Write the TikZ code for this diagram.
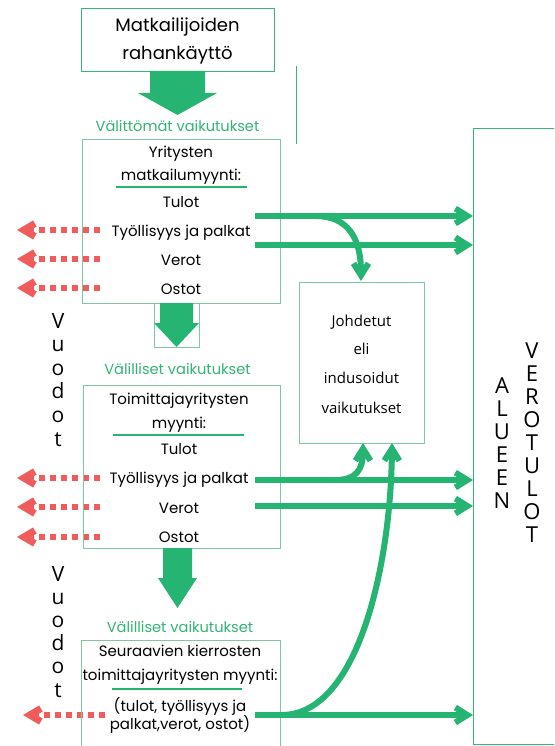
\documentclass[tikz,border=0pt]{standalone}
\usepackage{fontspec}
\setmainfont{Poppins}
\newfontfamily\humfont{Open Sans}
\usetikzlibrary{arrows.meta}
\definecolor{gfill}{RGB}{38,180,115}
\definecolor{gstrong}{RGB}{55,180,120}
\definecolor{boxc}{RGB}{125,200,162}
\definecolor{redc}{RGB}{240,92,92}
\definecolor{headc}{RGB}{50,180,115}
\newcommand\bodyf{\fontsize{15}{18}\selectfont}
\newcommand\headf{\fontsize{14.6}{18}\selectfont}
\newcommand\bigf{\fontsize{18}{22}\selectfont}
\newcommand\humf{\humfont\fontsize{15}{18}\selectfont}
\newcommand\vertf{\humfont\fontsize{21}{24}\selectfont}
\newcommand\vertbigf{\humfont\fontsize{22}{24}\selectfont}
\begin{document}
\begin{tikzpicture}[x=1pt,y=-1pt,
  box/.style={draw=boxc, line width=1pt, inner sep=0pt, anchor=north west},
  strongbox/.style={draw=gstrong, line width=1.2pt, inner sep=0pt, anchor=north west},
  txt/.style={font=\bodyf, inner sep=0pt, anchor=base},
  bigtxt/.style={font=\bigf, inner sep=0pt, anchor=base},
  humtxt/.style={font=\humf, inner sep=0pt, anchor=base},
  headtxt/.style={font=\headf, text=headc, inner sep=0pt, anchor=base},
  vlet/.style={font=\vertf, inner sep=0pt, anchor=base},
  vbig/.style={font=\vertbigf, inner sep=0pt, anchor=base},
  uline/.style={draw=gfill, line width=1.3pt},
  blockarrow/.style={fill=gfill},
  garrow/.style={draw=gfill, line width=6pt,
    -{Straight Barb[length=12pt,width=15pt,line join=miter,line cap=butt]}},
  rarrow/.style={draw=redc, line width=6pt, dash pattern=on 6pt off 5pt,
    -{Straight Barb[length=11pt,width=13pt,line width=7pt,line join=miter,line cap=butt]}},
]
\useasboundingbox (0,0) rectangle (554,746);
\clip (0,0) rectangle (554,746);
\fill[white] (0,0) rectangle (554,746);

% red leak arrows (drawn beneath the boxes)
\coordinate (r1s) at (100,230); \coordinate (r1e) at (17,230);
\coordinate (r2s) at (100,259); \coordinate (r2e) at (17,259);
\coordinate (r3s) at (100,288); \coordinate (r3e) at (17,288);
\coordinate (r4s) at (100,478); \coordinate (r4e) at (17,478);
\coordinate (r5s) at (100,507); \coordinate (r5e) at (17,507);
\coordinate (r6s) at (100,537); \coordinate (r6e) at (17,537);
\coordinate (r7s) at (105,715); \coordinate (r7e) at (23,715);
\foreach \k in {1,...,7} {\draw[rarrow] (r\k s) -- (r\k e);}

% boxes
\node[strongbox, minimum width=193pt, minimum height=63pt] (top) at (81,8) {};
\node[box, minimum width=198pt, minimum height=164pt] (box1) at (82,139) {};
\node[box, minimum width=197pt, minimum height=163pt] (box2) at (83,385) {};
\node[box, minimum width=199pt, minimum height=130pt] (box3) at (81,640) {};
\node[box, minimum width=125pt, minimum height=161pt] (joh) at (299,282) {};
\node[strongbox, minimum width=100pt, minimum height=616pt] (region) at (473,128) {};
\node[box, minimum width=45pt, minimum height=44pt] (frame2) at (154,303) {};

% thin line
\coordinate (tl1) at (296,66);
\coordinate (tl2) at (296,144);
\draw[draw=gstrong, line width=1pt] (tl1) -- (tl2);

% block arrows
\fill[blockarrow] (150,71) -- (205,71) -- (205,93) -- (217,93) -- (177.5,115) -- (138,93) -- (150,93) -- cycle;
\fill[blockarrow] (160,303) -- (193,303) -- (193,323) -- (199,323) -- (176.5,347) -- (154,323) -- (160,323) -- cycle;
\fill[blockarrow] (163,548) -- (192,548) -- (192,578) -- (197,578) -- (177.5,608) -- (158,578) -- (163,578) -- cycle;

% top box text
\node[bigtxt] (m1) at (177.5,32) {Matkailijoiden};
\node[bigtxt] (m2) at (177.5,60) {rahankäyttö};

% headings
\node[headtxt] (h1) at (177.5,132) {Välittömät vaikutukset};
\node[headtxt] (h2) at (177.5,374) {Välilliset vaikutukset};
\node[headtxt] (h3) at (180,632) {Välilliset vaikutukset};

% box1 text
\node[txt] (a1) at (181,158) {Yritysten};
\node[txt] (a2) at (181,181) {matkailumyynti:};
\node[txt] (a3) at (181,207) {Tulot};
\node[txt] (a4) at (181,236) {Työllisyys ja palkat};
\node[txt] (a5) at (181,265) {Verot};
\node[txt] (a6) at (181,294) {Ostot};
\coordinate (u1s) at (116,187); \coordinate (u1e) at (247,187);
\draw[uline] (u1s) -- (u1e);

% box2 text
\node[txt] (b1) at (179,404) {Toimittajayritysten};
\node[txt] (b2) at (179,428) {myynti:};
\node[txt] (b3) at (179,454) {Tulot};
\node[txt] (b4) at (179,483) {Työllisyys ja palkat};
\node[txt] (b5) at (179,513) {Verot};
\node[txt] (b6) at (179,542) {Ostot};
\coordinate (u2s) at (113,435); \coordinate (u2e) at (244,435);
\draw[uline] (u2s) -- (u2e);

% box3 text
\node[txt] (c1) at (180,656) {Seuraavien kierrosten};
\node[txt] (c2) at (180,680) {toimittajayritysten myynti:};
\node[txt] (c3) at (180,711) {(tulot, työllisyys ja};
\node[txt] (c4) at (180,729) {palkat,verot, ostot)};
\coordinate (u3s) at (112,689); \coordinate (u3e) at (242,689);
\draw[uline] (u3s) -- (u3e);

% Johdetut text
\node[humtxt] (j1) at (361.5,326) {Johdetut};
\node[humtxt] (j2) at (361.5,354) {eli};
\node[humtxt] (j3) at (361.5,383) {indusoidut};
\node[humtxt] (j4) at (361.5,413) {vaikutukset};

% vertical words
\foreach \ch [count=\i] in {V,u,o,d,o,t}
  {\node[vlet] (va\i) at (58,{328+23.6*(\i-1)}) {\ch};}
\foreach \ch [count=\i] in {V,u,o,d,o,t}
  {\node[vlet] (vb\i) at (58,{581+23.2*(\i-1)}) {\ch};}
\foreach \ch [count=\i] in {A,L,U,E,E,N}
  {\node[vbig] (al\i) at (502,{393+23*(\i-1)}) {\ch};}
\foreach \ch [count=\i] in {V,E,R,O,T,U,L,O,T}
  {\node[vbig] (ve\i) at (532,{358+23.1*(\i-1)}) {\ch};}

% green arrows to region
\coordinate (g1s) at (255,216); \coordinate (g1e) at (region.west |- g1s);
\coordinate (g2s) at (255,245); \coordinate (g2e) at (region.west |- g2s);
\coordinate (g3s) at (255,480); \coordinate (g3e) at (region.west |- g3s);
\coordinate (g4s) at (255,506); \coordinate (g4e) at (region.west |- g4s);
\coordinate (g5s) at (255,715); \coordinate (g5e) at (region.west |- g5s);
\foreach \k in {1,...,5} {\draw[garrow] (g\k s) -- (g\k e);}

% induced curves
\coordinate (k1s) at (315,216); \coordinate (k1e) at (361,281);
\draw[garrow] (k1s) .. controls (348,216) and (361,238) .. (k1e);
\coordinate (k2s) at (335,480); \coordinate (k2e) at (363,443);
\draw[garrow] (k2s) .. controls (356,480) and (363,470) .. (k2e);
\coordinate (k3s) at (283,715); \coordinate (k3e) at (392,443);
\draw[garrow] (k3s) .. controls (360,713) and (391,560) .. (k3e);
\end{tikzpicture}
\end{document}
